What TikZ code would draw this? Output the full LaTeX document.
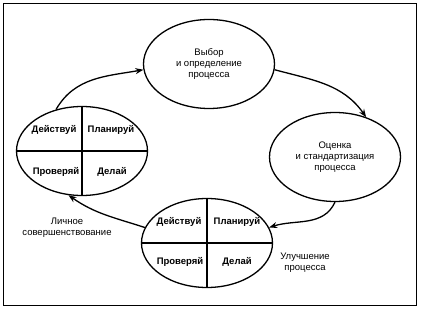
\documentclass[tikz,border=0pt]{standalone}
\usepackage{fontspec}
\setmainfont{Liberation Sans}
\usetikzlibrary{positioning,arrows.meta,shapes.geometric}

\begin{document}
\begin{tikzpicture}[x=1pt, y=1pt, >={Stealth[length=8pt,width=6pt]},
    oval/.style={ellipse, draw, line width=1.3pt, minimum width=131pt, minimum height=89pt, inner sep=0pt},
    txt/.style={align=center, font=\fontsize{9.5}{11}\selectfont},
    quad/.style={font=\fontsize{9.5}{11}\selectfont\bfseries},
    flow/.style={->, line width=1.3pt}]
    \useasboundingbox (0, 0) rectangle (422, 310);
    \draw[line width=1.3pt] (3.5, 4.5) rectangle (416.5, 306.5);

    \node[oval, txt] (sel) at (209, 246) {Выбор\\и определение\\процесса};
    \node[oval, txt] (std) at (335, 153) {Оценка\\и стандартизация\\процесса};
    \node[oval] (pers) at (82, 159) {};
    \node[oval] (impr) at (207, 67) {};

    % PDCA quarters
    \draw[line width=1.3pt] (pers.north) -- (pers.south);
    \draw[line width=1.3pt] (pers.west) -- (pers.east);
    \draw[line width=1.3pt] (impr.north) -- (impr.south);
    \draw[line width=1.3pt] (impr.west) -- (impr.east);

    \node[quad] (pact) at (54, 180) {Действуй};
    \node[quad] (pplan) at (111, 180) {Планируй};
    \node[quad] (pcheck) at (56, 138) {Проверяй};
    \node[quad] (pdo) at (112, 138) {Делай};

    \node[quad] (iact) at (179, 88) {Действуй};
    \node[quad] (iplan) at (237, 88) {Планируй};
    \node[quad] (icheck) at (180, 48) {Проверяй};
    \node[quad] (ido) at (237, 48) {Делай};

    \node[txt] (perslbl) at (67, 82) {Личное\\совершенствование};
    \node[txt] (imprlbl) at (305, 47) {Улучшение\\процесса};

    \draw[flow] (pers.122) to[out=60, in=190] (sel.185);
    \draw[flow] (sel.-5) to[out=-15, in=125] (std.52);
    \draw[flow] (std.-90) to[out=-115, in=18] (impr.14);
    \draw[flow] (impr.166) to[out=162, in=-35] (pers.253);
\end{tikzpicture}
\end{document}
